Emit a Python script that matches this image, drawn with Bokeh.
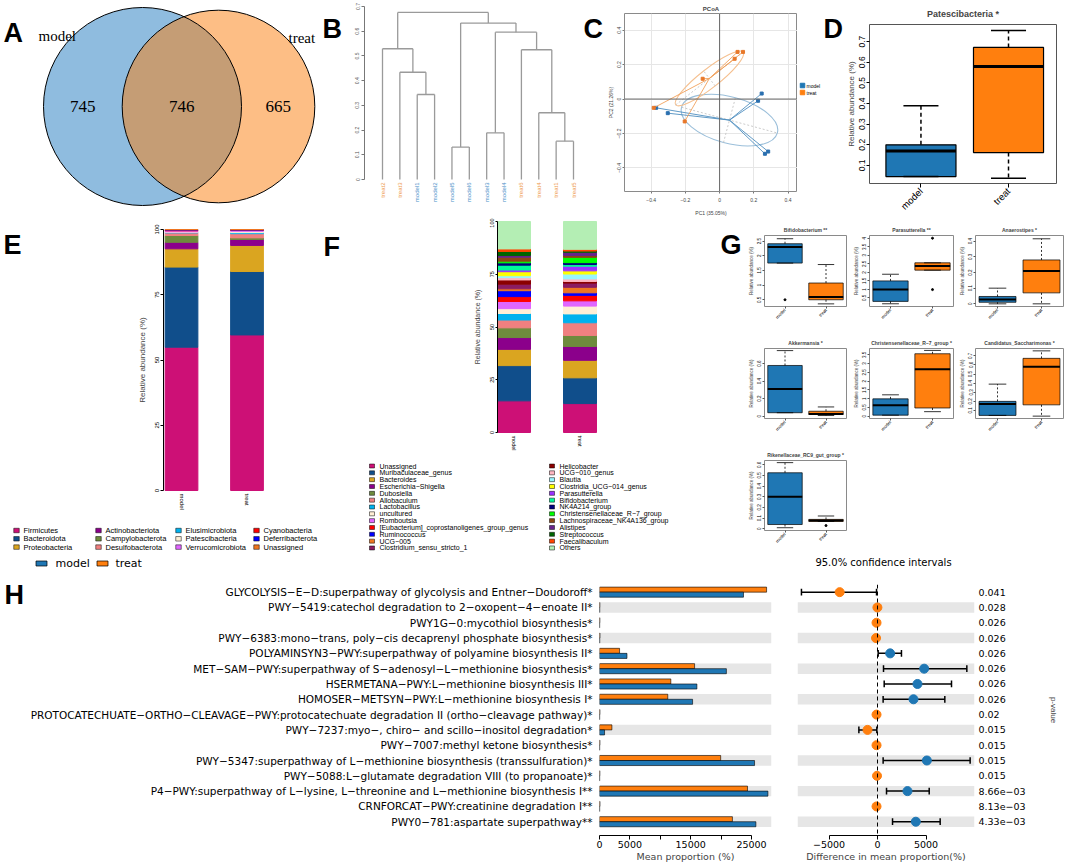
import math
from bokeh.plotting import figure
from bokeh.layouts import row, column
from bokeh.models import (Range1d, FixedTicker, Span, ColumnDataSource, LinearAxis, Spacer)
from bokeh.transform import dodge
from bokeh.core.properties import value
from bokeh.embed import file_html
from bokeh.resources import INLINE

# ============================ DATA ============================
groups = ["model", "treat"]

# A: Venn
venn_only_model = 745
venn_shared = 746
venn_only_treat = 665

# B: dendrogram (leaf order, merges: negative = leaf position, positive = merge number)
dend_leaves = ["treat2", "treat3", "model1", "model2", "model5", "model6",
               "model3", "model4", "treat6", "treat4", "treat1", "treat5"]
dend_left = [-5, -11, -7, -10, -3, -2, -9, -1, 3, 1, 8]
dend_right = [-6, -12, -8, 2, -4, 5, 4, 6, 7, 9, 10]
dend_height = [0.131, 0.155, 0.189, 0.270, 0.344, 0.434, 0.525, 0.529, 0.596, 0.633, 0.676]
dend_ticks = [0.0, 0.1, 0.2, 0.3, 0.4, 0.5, 0.6, 0.7]

# C: PCoA
pcoa_model_x = [-0.371, -0.303, 0.246, 0.225, 0.284, 0.265]
pcoa_model_y = [-0.051, -0.082, 0.032, -0.010, -0.305, -0.318]
pcoa_treat_x = [-0.385, -0.204, -0.099, 0.088, 0.105, 0.137]
pcoa_treat_y = [-0.051, -0.130, 0.118, 0.234, 0.274, 0.274]
pcoa_ell_a = [0.29, 0.25]
pcoa_ell_b = [0.135, 0.055]
pcoa_ell_deg = [-15.0, 38.0]
pcoa_ticks = [-0.4, -0.2, 0.0, 0.2, 0.4]
pc1_label = "PC1 (35.05%)"
pc2_label = "PC2 (21.26%)"

# D: Patescibacteria boxplot
pates_q1 = [0.046, 0.162]
pates_med = [0.170, 0.579]
pates_q3 = [0.200, 0.672]
pates_lo = [0.046, 0.038]
pates_hi = [0.389, 0.754]
pates_ticks = [0.1, 0.2, 0.3, 0.4, 0.5, 0.6, 0.7]

# E: phylum composition (%)
phyla = ["Firmicutes", "Bacteroidota", "Proteobacteria", "Actinobacteriota",
         "Campylobacterota", "Desulfobacterota", "Elusimicrobiota", "Patescibacteria",
         "Verrucomicrobiota", "Cyanobacteria", "Deferribacterota", "Unassigned"]
phyla_model = [54.9, 30.7, 7.0, 2.5, 2.6, 1.0, 0.2, 0.2, 0.4, 0.3, 0.1, 0.1]
phyla_treat = [59.6, 24.3, 10.0, 2.3, 0.6, 1.6, 0.4, 0.5, 0.3, 0.2, 0.1, 0.1]
phyla_colors = ["#CD1076", "#104E8B", "#DAA520", "#8B008B", "#6E8B3D", "#F08080",
                "#00B2EE", "#FFEFD5", "#E066FF", "#FF0000", "#0000FF", "#EE7621"]

# F: genus composition (%)
genera = ["Unassigned", "Muribaculaceae_genus", "Bacteroides", "Escherichia-Shigella",
          "Dubosiella", "Allobaculum", "Lactobacillus", "uncultured", "Romboutsia",
          "[Eubacterium]_coprostanoligenes_group_genus", "Ruminococcus", "UCG-005",
          "Clostridium_sensu_stricto_1", "Helicobacter", "UCG-010_genus", "Blautia",
          "Clostridia_UCG-014_genus", "Parasutterella", "Bifidobacterium", "NK4A214_group",
          "Christensenellaceae_R-7_group", "Lachnospiraceae_NK4A136_group", "Alistipes",
          "Streptococcus", "Faecalibaculum", "Others"]
genera_model = [15.0, 16.7, 7.7, 5.6, 4.6, 3.7, 3.1, 2.3, 3.4, 2.3, 2.8, 0.9, 2.2,
                2.0, 1.1, 0.9, 1.9, 0.8, 2.3, 1.1, 0.8, 1.9, 0.8, 1.9, 1.2, 13.0]
genera_treat = [13.7, 12.2, 8.3, 6.6, 5.2, 6.0, 4.2, 3.7, 2.5, 2.6, 1.2, 2.6, 2.0,
                0.8, 1.2, 2.3, 1.5, 2.2, 0.8, 0.9, 2.5, 0.9, 1.5, 0.6, 0.8, 13.2]
genera_colors = ["#CD1076", "#104E8B", "#DAA520", "#8B008B", "#6E8B3D", "#F08080",
                 "#00B2EE", "#FFEFD5", "#E066FF", "#FF0000", "#0000FF", "#EE7621",
                 "#8B1C62", "#8B0000", "#FFB6C1", "#98F5FF", "#FFFF00", "#9B30FF",
                 "#00FA9A", "#000080", "#00FF00", "#8B4513", "#68228B", "#006400",
                 "#FF4500", "#B4EEB4"]
comp_ticks = [0, 25, 50, 75, 100]

# G: differential genera boxplots  [model, treat]
g_titles = ["Bifidobacterium **", "Parasutterella **", "Anaerostipes *", "Akkermansia *",
            "Christensenellaceae_R-7_group *", "Candidatus_Saccharimonas *",
            "Rikenellaceae_RC9_gut_group *"]
g_q1 = [[1.75, 0.50], [0.30, 2.13], [0.010, 0.070], [0.040, 0.020], [0.06, 0.47], [0.046, 0.162], [0.040, 0.069]]
g_med = [[2.30, 0.59], [0.99, 2.37], [0.028, 0.210], [0.310, 0.026], [0.62, 2.68], [0.170, 0.579], [0.300, 0.078]]
g_q3 = [[2.41, 1.07], [1.50, 2.56], [0.047, 0.280], [0.580, 0.057], [0.99, 3.56], [0.200, 0.672], [0.525, 0.088]]
g_lo = [[1.75, 0.36], [0.16, 2.13], [0.000, 0.000], [0.040, 0.008], [0.06, 0.26], [0.046, 0.038], [0.010, 0.069]]
g_hi = [[2.58, 1.70], [1.89, 2.56], [0.100, 0.415], [0.750, 0.106], [1.22, 3.75], [0.389, 0.754], [0.620, 0.120]]
g_out_grp = [[1], [2, 2], [], [], [], [], [2]]
g_out_val = [[0.50], [4.00, 0.99], [], [], [], [], [0.030]]
g_ylim = [(0.27, 2.69), (0.0, 4.16), (-0.017, 0.436), (-0.026, 0.774), (-0.13, 3.86), (0.012, 0.78), (-0.016, 0.64)]
g_ticks = [[0.5, 1.0, 1.5, 2.0, 2.5], [0.5, 1.0, 1.5, 2.0, 2.5, 3.0, 3.5, 4.0],
           [0.0, 0.1, 0.2, 0.3, 0.4], [0.0, 0.2, 0.4, 0.6], [0.0, 0.5, 1.0, 1.5, 2.0, 2.5, 3.0, 3.5],
           [0.1, 0.2, 0.3, 0.4, 0.5, 0.6, 0.7], [0.0, 0.1, 0.2, 0.3, 0.4, 0.5, 0.6]]

# H: pathway comparison
pathways = [
    "GLYCOLYSIS-E-D:superpathway of glycolysis and Entner-Doudoroff*",
    "PWY-5419:catechol degradation to 2-oxopent-4-enoate II*",
    "PWY1G-0:mycothiol biosynthesis*",
    "PWY-6383:mono-trans, poly-cis decaprenyl phosphate biosynthesis*",
    "POLYAMINSYN3-PWY:superpathway of polyamine biosynthesis II*",
    "MET-SAM-PWY:superpathway of S-adenosyl-L-methionine biosynthesis*",
    "HSERMETANA-PWY:L-methionine biosynthesis III*",
    "HOMOSER-METSYN-PWY:L-methionine biosynthesis I*",
    "PROTOCATECHUATE-ORTHO-CLEAVAGE-PWY:protocatechuate degradation II (ortho-cleavage pathway)*",
    "PWY-7237:myo-, chiro- and scillo-inositol degradation*",
    "PWY-7007:methyl ketone biosynthesis*",
    "PWY-5347:superpathway of L-methionine biosynthesis (transsulfuration)*",
    "PWY-5088:L-glutamate degradation VIII (to propanoate)*",
    "P4-PWY:superpathway of L-lysine, L-threonine and L-methionine biosynthesis I**",
    "CRNFORCAT-PWY:creatinine degradation I**",
    "PWY0-781:aspartate superpathway**",
]
mean_model = [23680, 40, 30, 40, 4520, 20870, 16020, 15310, 30, 830, 30, 25500, 30, 27700, 30, 25720]
mean_treat = [27480, 60, 60, 80, 3300, 15640, 11730, 11230, 70, 2040, 70, 19930, 60, 24340, 80, 21860]
diff_mean = [-3900, -10, -100, -150, 1305, 4810, 4120, 3710, -100, -1030, -100, 5090, -50, 3090, -100, 3950]
ci_low = [-7840, -60, -200, -250, 70, 620, 690, 580, -200, -1920, -200, 580, -120, 930, -200, 1550]
ci_high = [-100, 40, 0, 50, 2470, 9210, 7630, 6940, 0, -70, 0, 9550, 20, 5330, 0, 6460]
p_values = ["0.041", "0.028", "0.026", "0.026", "0.026", "0.026", "0.026", "0.026",
            "0.02", "0.015", "0.015", "0.015", "0.015", "8.66e-03", "8.13e-03", "4.33e-03"]
mean_ticks = [0, 5000, 10000, 15000, 20000, 25000]
diff_ticks = [-5000, 0, 5000]

# ============================ STYLE ============================
SANS = "Liberation Sans"
WIDE = "DejaVu Sans"
SERIF = "Liberation Serif"
BLUE = "#1F77B4"
ORANGE = "#FF7F0E"
MINUS = "\u2212"


def rtxt(s):
    return s.replace("-", MINUS)


def lin(v1, p1, v2, p2):
    k = (v2 - v1) / (p2 - p1)
    return lambda px: v1 + (px - p1) * k


def base_fig(w, h, xr, yr, bl=0, br=0, bt=0, bb=0, xaxis=True, yaxis=True):
    p = figure(width=w, height=h, x_range=Range1d(*xr), y_range=Range1d(*yr),
               output_backend="svg", toolbar_location=None,
               x_axis_type="linear" if xaxis else None,
               y_axis_type="linear" if yaxis else None,
               min_border_left=bl, min_border_right=br, min_border_top=bt, min_border_bottom=bb)
    p.frame_align = False
    for g in list(p.xgrid) + list(p.ygrid):
        g.visible = False
    p.outline_line_color = None
    p.background_fill_color = "white"
    p.border_fill_color = "white"
    return p


def pixel_fig(x0, x1, y0, y1):
    """figure whose frame is the whole canvas, data units = page pixels"""
    return base_fig(int(x1 - x0), int(y1 - y0), (x0, x1), (y1, y0), xaxis=False, yaxis=False)


def style_axis(ax, size="6px", font=SANS, line="black", tick_out=3, standoff=2,
               orient=None, tick_color="black", label_color="black"):
    ax.major_label_text_font = font
    ax.major_label_text_font_size = size
    ax.major_label_text_color = label_color
    ax.axis_line_color = line
    ax.major_tick_out = tick_out
    ax.major_tick_in = 0
    ax.major_tick_line_color = tick_color
    ax.minor_tick_line_color = None
    ax.major_label_standoff = standoff
    if orient is not None:
        ax.major_label_orientation = orient


def axis_title(ax, text, size, font=SANS, standoff=3):
    ax.axis_label = text
    ax.axis_label_text_font = font
    ax.axis_label_text_font_size = size
    ax.axis_label_text_font_style = "normal"
    ax.axis_label_standoff = standoff


def set_title(p, text, size, standoff):
    p.title.text = text
    p.title.align = "center"
    p.title.text_font = SANS
    p.title.text_font_size = size
    p.title.text_font_style = "bold"
    p.title.standoff = standoff


def letter(p, ch, x, y):
    """panel letter; (x, y) = data position of the glyph's top-left"""
    p.text(x=[x], y=[y], text=[ch], text_font=value(SANS), text_font_size="27px",
           text_font_style="bold", text_align="left", text_baseline="top", text_color="black")


def draw_box(p, q1, med, q3, lo, hi, half=0.4, cap=0.2, lw=1.0, med_w=3, dash="4 3", wl=1.2):
    pos = [1, 2]
    p.quad(left=[x - half for x in pos], right=[x + half for x in pos], bottom=q1, top=q3,
           fill_color=[BLUE, ORANGE], line_color="black", line_width=lw)
    p.segment(x0=pos, x1=pos, y0=q3, y1=hi, line_color="black", line_width=wl, line_dash=dash)
    p.segment(x0=pos, x1=pos, y0=q1, y1=lo, line_color="black", line_width=wl, line_dash=dash)
    p.segment(x0=[x - cap for x in pos], x1=[x + cap for x in pos], y0=hi, y1=hi,
              line_color="black", line_width=wl)
    p.segment(x0=[x - cap for x in pos], x1=[x + cap for x in pos], y0=lo, y1=lo,
              line_color="black", line_width=wl)
    p.segment(x0=[x - half for x in pos], x1=[x + half for x in pos], y0=med, y1=med,
              line_color="black", line_width=med_w)


# ============================ A: Venn (+ letter B) ============================
pA = pixel_fig(0, 342, 0, 218)
n_model = venn_only_model + venn_shared
n_treat = venn_only_treat + venn_shared
r_unit = 99.0 / math.sqrt(n_model)
rM, rT = r_unit * math.sqrt(n_model), r_unit * math.sqrt(n_treat)
cM, cT, cy = 142.0, 218.0, 106.0
pA.circle(x=[cM], y=[cy], radius=[rM], fill_color="#1F79BF", fill_alpha=0.5, line_color=None)
pA.circle(x=[cT], y=[cy], radius=[rT], fill_color="#FB7D0B", fill_alpha=0.5, line_color=None)
pA.circle(x=[cM, cT], y=[cy, cy], radius=[rM, rT], fill_color=None, line_color="black", line_width=1)
num_x = [((cM - rM) + (cT - rT)) / 2, ((cT - rT) + (cM + rM)) / 2, ((cM + rM) + (cT + rT)) / 2]
pA.text(x=num_x, y=[cy] * 3, text=[str(venn_only_model), str(venn_shared), str(venn_only_treat)],
        text_font=value(SERIF), text_font_size="17px", text_align="center", text_baseline="middle")
pA.text(x=[38, 288], y=[35, 37], text=groups, text_font=value(SERIF), text_font_size="15px",
        text_align="left", text_baseline="middle")
letter(pA, "A", 3, 17)
letter(pA, "B", 322, 13)

# ============================ B: dendrogram (+ letter C) ============================
xB = lin(1, 382, 12, 573)
yB = lin(0, 179, 0.7, 6)
pB = base_fig(262, 218, (xB(364), xB(604)), (yB(212), yB(0)), bl=22, br=0, bt=0, bb=6, xaxis=False)
nx, nh = [], []
sx0, sy0, sx1, sy1 = [], [], [], []
for l, r, h in zip(dend_left, dend_right, dend_height):
    pts = []
    for c in (l, r):
        if c < 0:
            cx, ch = float(-c), 0.0
        else:
            cx, ch = nx[c - 1], nh[c - 1]
        pts.append(cx)
        sx0.append(cx); sy0.append(ch); sx1.append(cx); sy1.append(h)
    sx0.append(pts[0]); sy0.append(h); sx1.append(pts[1]); sy1.append(h)
    nx.append((pts[0] + pts[1]) / 2)
    nh.append(h)
pB.segment(x0=sx0, y0=sy0, x1=sx1, y1=sy1, line_color="#9a9a9a", line_width=1.3)
leaf_cols = ["#4A90C8" if s.startswith("model") else "#EE9A4D" for s in dend_leaves]
pB.text(x=list(range(1, len(dend_leaves) + 1)), y=[yB(182)] * len(dend_leaves), text=dend_leaves,
        angle=math.pi / 2, text_align="right", text_baseline="middle", text_color=leaf_cols,
        text_font=value(SANS), text_font_size="6px")
yaxB = pB.yaxis[0]
yaxB.ticker = FixedTicker(ticks=dend_ticks)
yaxB.bounds = (0, 0.7)
style_axis(yaxB, size="5px", line="#777777", tick_color="#777777", label_color="#555555",
           orient="vertical", tick_out=3)
letter(pB, "C", xB(583), yB(13))

# ============================ C: PCoA ============================
xC = lin(0, 717.3, 0.2, 752.3)
yC = lin(0, 100, 0.2, 65)
pC = base_fig(193, 218, (xC(620), xC(797)), (yC(194), yC(13)), bl=16, br=0, bt=13, bb=24)
pC.outline_line_color = "#8a8a8a"
for g in list(pC.xgrid) + list(pC.ygrid):
    g.visible = True
    g.ticker = FixedTicker(ticks=pcoa_ticks)
    g.grid_line_color = "#e6e6e6"
pC.add_layout(Span(location=0, dimension="height", line_color="#666666", line_width=1))
pC.add_layout(Span(location=0, dimension="width", line_color="#666666", line_width=1))
groups_pts = [(pcoa_model_x, pcoa_model_y, "#4F8FC0", "#9BBFDA", "#2A6FAF"),
              (pcoa_treat_x, pcoa_treat_y, "#F2A25C", "#F5C090", "#E8782A")]
for gi, (gx, gy, lcol, ecol, pcol) in enumerate(groups_pts):
    mx, my = sum(gx) / len(gx), sum(gy) / len(gy)
    a, b, th = pcoa_ell_a[gi], pcoa_ell_b[gi], math.radians(pcoa_ell_deg[gi])
    pC.ellipse(x=[mx], y=[my], width=[2 * a], height=[2 * b], angle=[th],
               fill_color=None, line_color=ecol, line_width=1.1)
    pC.segment(x0=[mx - a * math.cos(th), mx + b * math.sin(th)],
               y0=[my - a * math.sin(th), my - b * math.cos(th)],
               x1=[mx + a * math.cos(th), mx - b * math.sin(th)],
               y1=[my + a * math.sin(th), my + b * math.cos(th)],
               line_color="#c4c4c4", line_width=0.9, line_dash="2 2")
    pC.segment(x0=[mx] * len(gx), y0=[my] * len(gy), x1=gx, y1=gy, line_color=lcol, line_width=0.9)
    pC.scatter(x=gx, y=gy, size=3, marker="square", color=pcol)
style_axis(pC.xaxis[0], size="5px", line=None, tick_out=2, standoff=4, tick_color="#777777",
           label_color="#444444")
style_axis(pC.yaxis[0], size="5px", line=None, tick_out=2, standoff=1, tick_color="#777777",
           label_color="#444444", orient="vertical")
pC.xaxis[0].ticker = FixedTicker(ticks=pcoa_ticks)
pC.yaxis[0].ticker = FixedTicker(ticks=pcoa_ticks)
axis_title(pC.xaxis[0], pc1_label, "5px", standoff=5)
axis_title(pC.yaxis[0], pc2_label, "5px", standoff=1)
set_title(pC, "PCoA", "6px", 3)

# C legend + letter D (own strip)
pLD = pixel_fig(797, 843, 0, 218)
pLD.rect(x=[802, 802], y=[85, 92], width=4.5, height=4.5, fill_color=[BLUE, ORANGE],
         line_color=[BLUE, ORANGE])
pLD.text(x=[806, 806], y=[85, 92], text=groups, text_font=value(SANS), text_font_size="5px",
         text_baseline="middle")
letter(pLD, "D", 823, 13)

# ============================ D: Patescibacteria ============================
xD = lin(1, 919, 2, 1007.5)
yD = lin(0.1, 172, 0.7, 42)
pD = base_fig(222, 218, (xD(867), xD(1056)), (yD(191), yD(24)), bl=24, br=9, bt=24, bb=27)
pD.outline_line_color = "#555555"
draw_box(pD, pates_q1, pates_med, pates_q3, pates_lo, pates_hi, lw=1.2, med_w=3, dash="4 3", wl=1.5)
style_axis(pD.yaxis[0], size="8.5px", line=None, tick_out=3, standoff=1, orient="vertical")
pD.yaxis[0].ticker = FixedTicker(ticks=pates_ticks)
axis_title(pD.yaxis[0], "Relative abundance (%)", "8px", standoff=1)
style_axis(pD.xaxis[0], size="9.5px", line=None, tick_out=4, orient=math.pi / 4)
pD.xaxis[0].ticker = FixedTicker(ticks=[1, 2])
pD.xaxis[0].major_label_overrides = {1: groups[0], 2: groups[1]}
set_title(pD, "Patescibacteria *", "9px", 11)

# ============================ E: phyla (+ letter F) ============================
pLE = pixel_fig(0, 22, 218, 512)
letter(pLE, "E", 3, 229)
xE = lin(1, 181, 2, 246.5)
yE = lin(0, 490, 100, 229)
pE = base_fig(318, 294, (xE(163), xE(340)), (yE(491), yE(228)), bl=141, br=0, bt=10, bb=21)
srcE = ColumnDataSource(dict(x=[1, 2], **{f"p{i}": [phyla_model[i], phyla_treat[i]] for i in range(len(phyla))}))
pE.vbar_stack([f"p{i}" for i in range(len(phyla))], x="x", width=0.5, color=phyla_colors, source=srcE)
style_axis(pE.yaxis[0], size="6px", tick_out=3, orient="vertical")
pE.yaxis[0].ticker = FixedTicker(ticks=comp_ticks)
pE.yaxis[0].bounds = (0, 100)
axis_title(pE.yaxis[0], "Relative abundance (%)", "8px", standoff=5)
style_axis(pE.xaxis[0], size="6px", line=None, tick_out=0, orient="vertical", tick_color=None)
pE.xaxis[0].ticker = FixedTicker(ticks=[1, 2])
pE.xaxis[0].major_label_overrides = {1: groups[0], 2: groups[1]}
letter(pE, "F", xE(323), yE(231))

pEL = pixel_fig(0, 340, 512, 575)
e_cols = [13, 95, 175, 253]
ex, ey = [], []
for i in range(len(phyla)):
    c, r = divmod(i, 3)
    ex.append(e_cols[c]); ey.append(530 + r * 8.3)
pEL.rect(x=[v + 3 for v in ex], y=ey, width=5.5, height=4.5, fill_color=phyla_colors,
         line_color="black", line_width=0.5)
pEL.text(x=[v + 10 for v in ex], y=ey, text=[rtxt(s) for s in phyla], text_font=value(SANS),
         text_font_size="7.5px", text_baseline="middle")
pEL.rect(x=[41, 102], y=[563, 563], width=11, height=5, fill_color=[BLUE, ORANGE],
         line_color="black", line_width=0.7)
pEL.text(x=[55, 115], y=[563, 563], text=groups, text_font=value(WIDE), text_font_size="11px",
         text_baseline="middle")

# ============================ F: genera ============================
xF = lin(1, 513.5, 2, 579.5)
yF = lin(0, 432, 100, 221)
pF = base_fig(380, 244, (xF(497), xF(640)), (yF(433), yF(220)), bl=157, br=80, bt=2, bb=29)
srcF = ColumnDataSource(dict(x=[1, 2], **{f"g{i}": [genera_model[i], genera_treat[i]] for i in range(len(genera))}))
pF.vbar_stack([f"g{i}" for i in range(len(genera))], x="x", width=0.5, color=genera_colors, source=srcF)
style_axis(pF.yaxis[0], size="5.5px", tick_out=2, orient="vertical")
pF.yaxis[0].ticker = FixedTicker(ticks=comp_ticks)
pF.yaxis[0].bounds = (0, 100)
axis_title(pF.yaxis[0], "Relative abundance (%)", "7px", standoff=6)
style_axis(pF.xaxis[0], size="5.5px", line=None, tick_out=0, orient="vertical", tick_color=None)
pF.xaxis[0].ticker = FixedTicker(ticks=[1, 2])
pF.xaxis[0].major_label_overrides = {1: groups[0], 2: groups[1]}

pFL = pixel_fig(340, 720, 462, 575)
f_cols = [369, 549]
fx, fy = [], []
for i in range(len(genera)):
    c, r = divmod(i, 13)
    fx.append(f_cols[c]); fy.append(465.5 + r * 6.83)
pFL.rect(x=[v + 2.5 for v in fx], y=fy, width=5, height=4, fill_color=genera_colors,
         line_color="black", line_width=0.5)
pFL.text(x=[v + 10 for v in fx], y=fy, text=[rtxt(s) for s in genera], text_font=value(SANS),
         text_font_size="7px", text_baseline="middle")

# ============================ G: mini boxplots ============================
g_cols = [(108, 22, 4), (106, 16, 3), (109, 16, 2)]
g_rows = [(17, 23), (19, 22), (20, 21)]


def mini(k):
    w, bl, br = g_cols[k % 3]
    bt, bb = g_rows[k // 3]
    lo_, hi_ = g_ylim[k]
    p = base_fig(w, 111, (0.5, 2.5), (lo_, hi_), bl=bl, br=br, bt=bt, bb=bb)
    p.outline_line_color = "#8a8a8a"
    draw_box(p, g_q1[k], g_med[k], g_q3[k], g_lo[k], g_hi[k], half=0.42, cap=0.2,
             lw=0.7, med_w=2, dash="2 2", wl=0.8)
    if g_out_val[k]:
        p.scatter(x=g_out_grp[k], y=g_out_val[k], size=2, color="black")
    style_axis(p.yaxis[0], size="4.5px", line=None, tick_out=2, standoff=1, orient="vertical",
               tick_color="#555555")
    p.yaxis[0].ticker = FixedTicker(ticks=g_ticks[k])
    axis_title(p.yaxis[0], "Relative abundance (%)", "4.5px", standoff=1)
    style_axis(p.xaxis[0], size="4.5px", line=None, tick_out=2, standoff=1, orient=math.pi / 4,
               tick_color="#555555")
    p.xaxis[0].ticker = FixedTicker(ticks=[1, 2])
    p.xaxis[0].major_label_overrides = {1: groups[0], 2: groups[1]}
    set_title(p, rtxt(g_titles[k]), "5px", 5)
    return p


gp = [mini(k) for k in range(len(g_titles))]
pLG = pixel_fig(720, 742, 218, 575)
letter(pLG, "G", 720, 229)

pCap = pixel_fig(742, 1065, 551, 575)
pCap.text(x=[883], y=[562], text=["95.0% confidence intervals"], text_font=value(WIDE),
          text_font_size="10px", text_align="center", text_baseline="middle")

colG = row(pLG, column(row(gp[0], gp[1], gp[2]), row(gp[3], gp[4], gp[5]),
                       row(gp[6], Spacer(width=106, height=111), Spacer(width=109, height=111)), pCap))

# ============================ H: pathways ============================
n = len(pathways)
rows_y = [n - k for k in range(n)]
band_y = [rows_y[k] for k in range(n) if k % 2 == 1]
srcH = ColumnDataSource(dict(y=rows_y, model=mean_model, treat=mean_treat))

pLH = pixel_fig(0, 25, 575, 866)
letter(pLH, "H", 4, 579)

xHb = lin(0, 599, 5000, 629.4)
pHb = base_fig(760, 291, (0, xHb(771)), (0.1, n + 0.5), bl=574, br=14, bt=9, bb=31)
pHb.hbar(y=band_y, left=0, right=xHb(771), height=0.68, fill_color="#e6e6e6", line_color=None)
pHb.hbar(y=dodge("y", 0.165), left=0, right="treat", height=0.33, fill_color=ORANGE,
         line_color="black", line_width=0.6, source=srcH)
pHb.hbar(y=dodge("y", -0.165), left=0, right="model", height=0.33, fill_color=BLUE,
         line_color="black", line_width=0.6, source=srcH)
yax = pHb.yaxis[0]
yax.ticker = FixedTicker(ticks=rows_y)
yax.major_label_overrides = {rows_y[k]: rtxt(pathways[k]) for k in range(n)}
style_axis(yax, size="10.5px", font=WIDE, line=None, tick_out=0, standoff=7, tick_color=None)
xax = pHb.xaxis[0]
xax.ticker = FixedTicker(ticks=mean_ticks)
xax.major_label_overrides = {10000: "", 20000: ""}
xax.bounds = (0, 25000)
style_axis(xax, size="9.5px", font=WIDE, tick_out=4, standoff=1)
axis_title(xax, "Mean proportion (%)", "9.5px", font=WIDE, standoff=0)

xHd = lin(0, 877, 5000, 925.5)
pHd = base_fig(280, 291, (xHd(797), xHd(974)), (0.1, n + 0.5), bl=12, br=91, bt=9, bb=31, yaxis=False)
pHd.hbar(y=band_y, left=xHd(797), right=xHd(974), height=0.68, fill_color="#e6e6e6", line_color=None)
ci_rows = [k for k in range(n) if ci_high[k] - ci_low[k] > 500]
cy_ = [rows_y[k] for k in ci_rows]
clo = [ci_low[k] for k in ci_rows]
chi = [ci_high[k] for k in ci_rows]
pHd.segment(x0=clo, x1=chi, y0=cy_, y1=cy_, line_color="black", line_width=1.5)
pHd.segment(x0=clo, x1=clo, y0=[v - 0.22 for v in cy_], y1=[v + 0.22 for v in cy_], line_color="black", line_width=1.5)
pHd.segment(x0=chi, x1=chi, y0=[v - 0.22 for v in cy_], y1=[v + 0.22 for v in cy_], line_color="black", line_width=1.5)
pHd.add_layout(Span(location=0, dimension="height", line_color="black", line_width=1, line_dash="4 3"))
dot_cols = [ORANGE if d < 0 else BLUE for d in diff_mean]
pHd.scatter(x=diff_mean, y=rows_y, size=9, color=dot_cols)
pax = LinearAxis(ticker=FixedTicker(ticks=rows_y),
                 major_label_overrides={rows_y[k]: rtxt(p_values[k]) for k in range(n)})
style_axis(pax, size="9.5px", font=WIDE, line=None, tick_out=0, standoff=4, tick_color=None)
axis_title(pax, "p-value", "8px", font=SANS, standoff=20)
pHd.add_layout(pax, "right")
dax = pHd.xaxis[0]
dax.ticker = FixedTicker(ticks=diff_ticks)
dax.bounds = (-5000, 5000)
style_axis(dax, size="9.5px", font=WIDE, tick_out=4, standoff=1)
axis_title(dax, "Difference in mean proportion(%)", "9.5px", font=WIDE, standoff=0)

# ============================ LAYOUT ============================
top = row(pA, pB, pC, pLD, pD)
mid = row(column(row(pLE, pE), pEL), column(pF, pFL), colG)
bot = row(pLH, pHb, pHd)
layout = column(top, mid, bot)

open("out.html", "w").write(file_html(layout, INLINE))
